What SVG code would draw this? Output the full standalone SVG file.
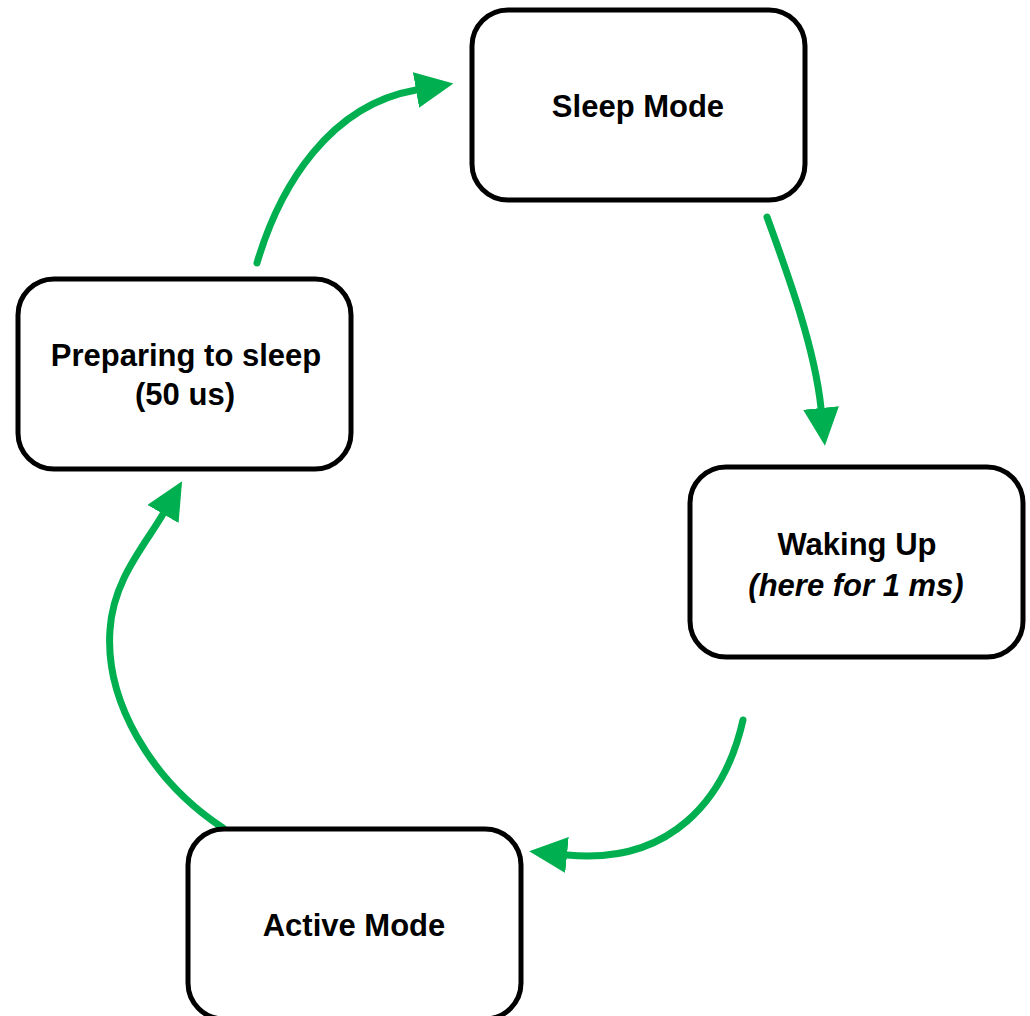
<svg xmlns="http://www.w3.org/2000/svg" width="1030" height="1016" viewBox="0 0 1030 1016">
  <style>
    .box { fill: #ffffff; stroke: #000000; stroke-width: 5; }
    .label { font-family: "Liberation Sans", Arial, sans-serif; font-weight: bold; font-size: 31px; fill: #000000; text-anchor: middle; }
    .italic { font-style: italic; }
    .flow { fill: none; stroke: #00B050; stroke-width: 7; stroke-linecap: round; }
  </style>
  <defs>
    <marker id="head" markerUnits="userSpaceOnUse" markerWidth="38" markerHeight="36" refX="0" refY="18" orient="auto">
      <path d="M0,0 L38,18 L0,36 z" fill="#00B050"/>
    </marker>
  </defs>

  <rect width="1030" height="1016" fill="#ffffff"/>

  <!-- state transitions -->
  <g id="connectors">
    <path class="flow" d="M257 263 C 280 185 330 105 416 90" marker-end="url(#head)"/>
    <path class="flow" d="M767 217 C 790 280 815 350 821 408" marker-end="url(#head)"/>
    <path class="flow" d="M743 720 C 725 800 670 865 567 855" marker-end="url(#head)"/>
    <path class="flow" d="M223 828 C 150 780 105 700 110 630 C 113 580 145 545 163 514" marker-end="url(#head)"/>
  </g>

  <g id="sleep-mode">
    <rect class="box" x="472" y="10" width="333" height="190" rx="36" ry="36"/>
    <text class="label" x="638" y="117">Sleep Mode</text>
  </g>

  <g id="waking-up">
    <rect class="box" x="690" y="467" width="333" height="190" rx="36" ry="36"/>
    <text class="label" x="857" y="555">Waking Up</text>
    <text class="label italic" x="856" y="596">(here for 1 ms)</text>
  </g>

  <g id="active-mode">
    <rect class="box" x="188" y="829" width="333" height="190" rx="36" ry="36"/>
    <text class="label" x="354" y="936">Active Mode</text>
  </g>

  <g id="preparing-to-sleep">
    <rect class="box" x="18" y="279" width="333" height="190" rx="36" ry="36"/>
    <text class="label" x="186" y="366">Preparing to sleep</text>
    <text class="label" x="185" y="405">(50 us)</text>
  </g>
</svg>
